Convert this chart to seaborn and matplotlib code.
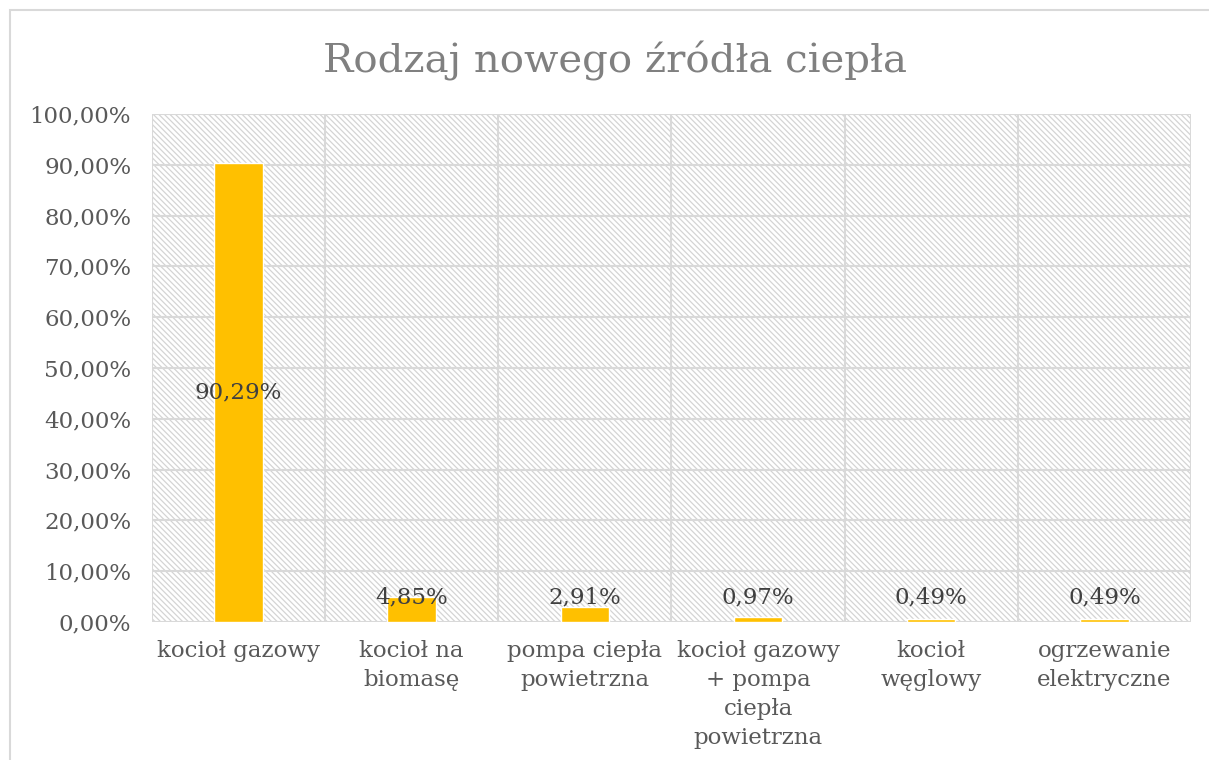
import matplotlib
matplotlib.use("Agg")
import matplotlib.pyplot as plt
import seaborn as sns
import pandas as pd
from matplotlib.patches import Rectangle

# Chart data
categories = ["kocioł gazowy", "kocioł na\nbiomasę", "pompa ciepła\npowietrzna",
              "kocioł gazowy\n+ pompa\nciepła\npowietrzna", "kocioł\nwęglowy",
              "ogrzewanie\nelektryczne"]
values = [90.29, 4.85, 2.91, 0.97, 0.49, 0.49]
yticks = [0, 10, 20, 30, 40, 50, 60, 70, 80, 90, 100]

sns.set_theme(style="white")
plt.rcParams['font.family'] = ['DejaVu Serif']
plt.rcParams['hatch.color'] = '#d4d4d4'
plt.rcParams['hatch.linewidth'] = 0.9

df = pd.DataFrame({"cat": categories, "val": values})

fig = plt.figure(figsize=(12.09, 7.6), dpi=100)
# outer chart border
fig.patches.append(Rectangle((10 / 1209, -0.05), 1.2, 1 - 10 / 760 + 0.05,
                             transform=fig.transFigure, fill=False,
                             edgecolor='#d9d9d9', linewidth=1.5))
ax = fig.add_axes([0.1257, 0.1816, 0.8594, 0.6684])

# hatched plot-area background
ax.add_patch(Rectangle((0, 0), 1, 1, transform=ax.transAxes, facecolor='white',
                       edgecolor='#d4d4d4', hatch='\\\\\\\\\\\\', linewidth=0, zorder=0))

sns.barplot(data=df, x="cat", y="val", color='#FFC000', width=0.28,
            saturation=1, ax=ax, zorder=3)

ax.set_xlim(-0.5, len(categories) - 0.5)
ax.set_ylim(0, 100)
ax.set_yticks(yticks)
ax.set_yticklabels([f"{t:.2f}".replace('.', ',') + "%" for t in yticks])
ax.set_xticks(range(len(categories)))
ax.set_xticklabels(categories, linespacing=1.42, va='top')
for i in range(len(categories) + 1):
    ax.axvline(i - 0.5, color='#d9d9d9', linewidth=1.5, zorder=1)
for t in yticks:
    ax.axhline(t, color='#d9d9d9', linewidth=1.5, zorder=1)

ax.tick_params(axis='both', length=0, labelsize=16.5, colors='#595959')
ax.tick_params(axis='y', pad=15)
ax.tick_params(axis='x', pad=13)
ax.set_xlabel("")
ax.set_ylabel("")
for s in ax.spines.values():
    s.set_visible(False)

# data labels
for i, v in enumerate(values):
    txt = f"{v:.2f}".replace('.', ',') + "%"
    y = v / 2 if v > 50 else 4.9
    ax.text(i, y, txt, ha='center', va='center', fontsize=16.5, color='#404040', zorder=4)

fig.text(0.509, 0.92, "Rodzaj nowego źródła ciepła", ha='center', va='center',
         fontsize=29, color='#808080')

fig.savefig("out.png", dpi=100)
